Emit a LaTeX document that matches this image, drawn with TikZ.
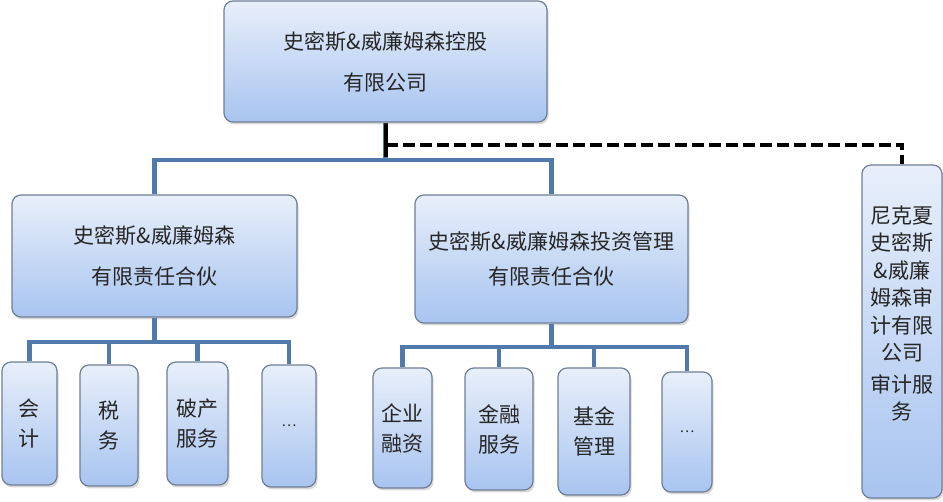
\documentclass[tikz,border=0pt]{standalone}
\usepackage{fontspec}
\setmainfont{Noto Sans CJK SC}
\usetikzlibrary{backgrounds,shadows,calc}
\definecolor{boxtop}{HTML}{E8EFFA}
\definecolor{boxbot}{HTML}{A8C4F0}
\definecolor{boxline}{HTML}{6F7F96}
\definecolor{conblue}{HTML}{5079AC}
\tikzset{
  orgbox/.style={draw=boxline, line width=1.2pt, rounded corners=9pt,
    top color=boxtop, bottom color=boxbot,
    drop shadow={shadow xshift=1.5pt, shadow yshift=-2.5pt, opacity=0.3},
    inner sep=0pt, align=center, text=black!85},
  bigtext/.style={font=\fontsize{21}{41}\selectfont},
  midtext/.style={font=\fontsize{21}{35}\selectfont},
  smalltext/.style={font=\fontsize{21}{30}\selectfont},
  sidetext/.style={font=\fontsize{21}{27.5}\selectfont, align=center, inner sep=0pt, text=black!85},
  dotstext/.style={font=\fontsize{14}{20}\selectfont},
  conn/.style={draw=conblue, line width=4.5pt, line join=miter},
  blkline/.style={draw=black, line width=4pt},
  dashln/.style={draw=black, line width=4pt, dash pattern=on 12pt off 5pt}
}
\begin{document}
\begin{tikzpicture}[x=1pt,y=-1pt]
\useasboundingbox (0,0) rectangle (943,502);
% boxes
\node[orgbox, bigtext, minimum width=323pt, minimum height=121pt] (top) at (385.5,61.5) {史密斯\&威廉姆森控股\\有限公司};
\node[orgbox, bigtext, minimum width=285pt, minimum height=122pt] (L) at (154.5,256) {史密斯\&威廉姆森\\有限责任合伙};
\node[orgbox, midtext, minimum width=273pt, minimum height=128pt] (M) at (551.5,259) {史密斯\&威廉姆森投资管理\\有限责任合伙};
\node[orgbox, minimum width=80pt, minimum height=333pt] (R) at (902,331.5) {};
\node[sidetext] (Rtxt) at (902,313.5) {尼克夏\\史密斯\\\&威廉\\姆森审\\计有限\\公司\\[4pt]审计服\\务};
\node[orgbox, smalltext, minimum width=55pt, minimum height=123pt] (b1) at (29.5,423.5) {会\\计};
\node[orgbox, smalltext, minimum width=58pt, minimum height=121pt] (b2) at (109,425.5) {税\\务};
\node[orgbox, smalltext, minimum width=61pt, minimum height=123pt] (b3) at (197.5,423.5) {破产\\服务};
\node[orgbox, dotstext, minimum width=54pt, minimum height=122pt] (b4) at (289,426) {…};
\node[orgbox, smalltext, minimum width=59pt, minimum height=120pt] (b5) at (402.5,428) {企业\\融资};
\node[orgbox, smalltext, minimum width=68pt, minimum height=122pt] (b6) at (499,429) {金融\\服务};
\node[orgbox, smalltext, minimum width=72pt, minimum height=127pt] (b7) at (594,431.5) {基金\\管理};
\node[orgbox, dotstext, minimum width=50pt, minimum height=120pt] (b8) at (687,432) {…};
% connectors
\coordinate (tj) at (385.5,160);
\coordinate (dj) at (385.5,145);
\coordinate (lj) at (154.5,342);
\coordinate (mj) at (551.5,347);
\begin{scope}[on background layer]
  \draw[conn] (top.south) -- (tj);
  \draw[conn] (tj) -| (L.north);
  \draw[conn] (tj) -| (M.north);
  \draw[conn] (L.south) -- (lj);
  \foreach \b in {b1,b2,b3,b4} \draw[conn] (lj) -| (\b.north);
  \draw[conn] (M.south) -- (mj);
  \foreach \b in {b5,b6,b7,b8} \draw[conn] (mj) -| (\b.north);
  \draw[blkline] (top.south) -- ($(tj)+(0,-3)$);
  \draw[dashln] (dj) -| (R.north);
\end{scope}
\end{tikzpicture}
\end{document}
